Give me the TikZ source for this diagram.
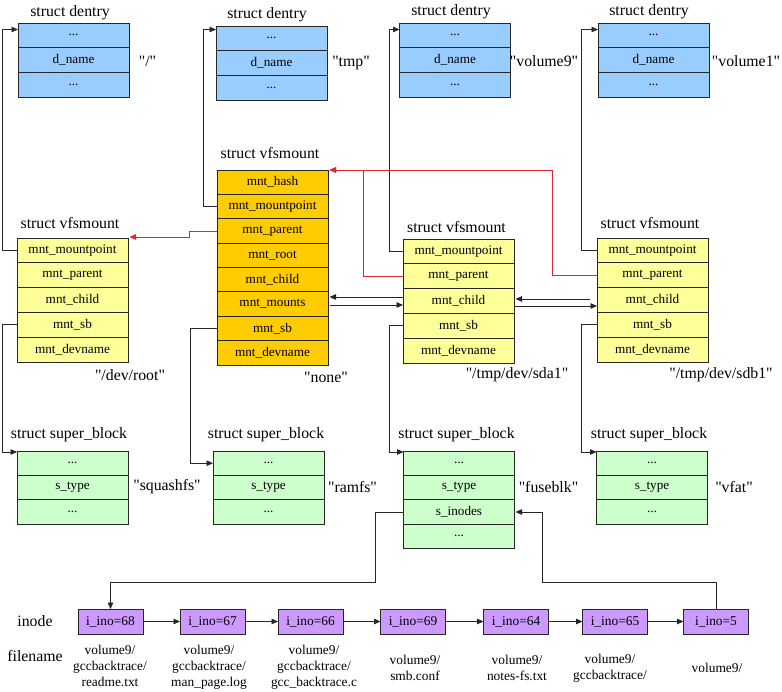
\documentclass[tikz,border=0pt]{standalone}
\usepackage{fontspec}
\newfontfamily\lib{Liberation Serif}
\usetikzlibrary{arrows.meta,calc}
\definecolor{dblue}{HTML}{99CCFF}
\definecolor{vyel}{HTML}{FFFF99}
\definecolor{vorg}{HTML}{FFCC00}
\definecolor{sgrn}{HTML}{CCFFCC}
\definecolor{ipur}{HTML}{CC99FF}
\definecolor{rline}{HTML}{E3262B}
\tikzset{
  fld/.style={draw=black!85, line width=0.9pt, minimum width=111pt, inner sep=0pt, outer sep=0pt, anchor=center, font=\lib\fontsize{13.2}{15}\selectfont},
  dent/.style={fld, fill=dblue, minimum height=24.67pt},
  vfs/.style={fld, fill=vyel, minimum height=24.8pt},
  vfso/.style={fld, fill=vorg, minimum height=24.375pt},
  sblk/.style={fld, fill=sgrn, minimum height=24.4pt},
  ino/.style={fld, fill=ipur, minimum width=65pt, minimum height=25pt, font=\lib\fontsize{13.4}{15}\selectfont},
  ttl/.style={inner sep=0pt, font=\lib\fontsize{15.8}{18}\selectfont},
  lbl/.style={inner sep=0pt, font=\lib\fontsize{15.8}{18}\selectfont},
  fname/.style={inner sep=0pt, align=center, font=\lib\fontsize{13.4}{16}\selectfont},
  arr/.style={draw=black!85, line width=0.8pt, -{Triangle[length=6.5pt,width=5.5pt]}},
  rarr/.style={draw=rline, line width=0.8pt, -{Triangle[length=6.5pt,width=5.5pt]}}
}
\begin{document}
\begin{tikzpicture}[x=1pt,y=-1pt]
\useasboundingbox[fill=white] (0,0) rectangle (782,692);
% ---- dentries
\node[ttl] (td1) at (70,13) {struct dentry};
\node[dent] (d1a) at (73.5,35.33) {...};
\node[dent] (d1b) at (73.5,60) {d\_name};
\node[dent] (d1c) at (73.5,84.67) {...};
\node[lbl] (l1) at (147.5,61) {"/"};

\node[ttl] (td2) at (267,15) {struct dentry};
\node[dent] (d2a) at (271.5,38.33) {...};
\node[dent] (d2b) at (271.5,63) {d\_name};
\node[dent] (d2c) at (271.5,87.67) {...};
\node[lbl] (l2) at (351,63) {"tmp"};

\node[ttl] (td3) at (451,12) {struct dentry};
\node[dent] (d3a) at (455,35.33) {...};
\node[dent] (d3b) at (455,60) {d\_name};
\node[dent] (d3c) at (455,84.67) {...};
\node[lbl] (l3) at (544,61) {"volume9"};

\node[ttl] (td4) at (649,12) {struct dentry};
\node[dent] (d4a) at (653.5,35.33) {...};
\node[dent] (d4b) at (653.5,60) {d\_name};
\node[dent] (d4c) at (653.5,84.67) {...};
\node[lbl] (l4) at (746,61) {"volume1"};
% ---- vfsmount 1
\node[ttl] (tv1) at (70,223) {struct vfsmount};
\node[vfs] (v1a) at (72.5,250.4) {mnt\_mountpoint};
\node[vfs] (v1b) at (72.5,275.2) {mnt\_parent};
\node[vfs] (v1c) at (72.5,300) {mnt\_child};
\node[vfs] (v1d) at (72.5,324.8) {mnt\_sb};
\node[vfs] (v1e) at (72.5,349.6) {mnt\_devname};
\node[lbl] (lv1) at (130,375) {"/dev/root"};
% ---- vfsmount 2
\node[ttl] (tv2) at (270,153) {struct vfsmount};
\node[vfso] (v2a) at (272.5,182.19) {mnt\_hash};
\node[vfso] (v2b) at (272.5,206.56) {mnt\_mountpoint};
\node[vfso] (v2c) at (272.5,230.94) {mnt\_parent};
\node[vfso] (v2d) at (272.5,255.31) {mnt\_root};
\node[vfso] (v2e) at (272.5,279.69) {mnt\_child};
\node[vfso] (v2f) at (272.5,304.06) {mnt\_mounts};
\node[vfso] (v2g) at (272.5,328.44) {mnt\_sb};
\node[vfso] (v2h) at (272.5,352.81) {mnt\_devname};
\node[lbl] (lv2) at (326,377) {"none"};
% ---- vfsmount 3
\node[ttl] (tv3) at (456.5,227) {struct vfsmount};
\node[vfs] (v3a) at (458.5,251.4) {mnt\_mountpoint};
\node[vfs] (v3b) at (458.5,276.2) {mnt\_parent};
\node[vfs] (v3c) at (458.5,301) {mnt\_child};
\node[vfs] (v3d) at (458.5,325.8) {mnt\_sb};
\node[vfs] (v3e) at (458.5,350.6) {mnt\_devname};
\node[lbl] (lv3) at (517,375) {"/tmp/dev/sda1"};
% ---- vfsmount 4
\node[ttl] (tv4) at (650,223) {struct vfsmount};
\node[vfs] (v4a) at (652.5,250.4) {mnt\_mountpoint};
\node[vfs] (v4b) at (652.5,275.2) {mnt\_parent};
\node[vfs] (v4c) at (652.5,300) {mnt\_child};
\node[vfs] (v4d) at (652.5,324.8) {mnt\_sb};
\node[vfs] (v4e) at (652.5,349.6) {mnt\_devname};
\node[lbl] (lv4) at (721,375) {"/tmp/dev/sdb1"};
% ---- super blocks
\node[ttl] (ts1) at (69,435) {struct super\_block};
\node[sblk] (s1a) at (72.5,463.2) {...};
\node[sblk] (s1b) at (72.5,487.6) {s\_type};
\node[sblk] (s1c) at (72.5,512) {...};
\node[lbl] (ls1) at (167,487) {"squashfs"};

\node[ttl] (ts2) at (266,435) {struct super\_block};
\node[sblk] (s2a) at (268.5,463.2) {...};
\node[sblk] (s2b) at (268.5,487.6) {s\_type};
\node[sblk] (s2c) at (268.5,512) {...};
\node[lbl] (ls2) at (352.5,487) {"ramfs"};

\node[ttl] (ts3) at (456.5,435) {struct super\_block};
\node[sblk] (s3a) at (459,463.2) {...};
\node[sblk] (s3b) at (459,487.6) {s\_type};
\node[sblk] (s3c) at (459,512) {s\_inodes};
\node[sblk] (s3d) at (459,536.4) {...};
\node[lbl] (ls3) at (548.5,487) {"fuseblk"};

\node[ttl] (ts4) at (649,435) {struct super\_block};
\node[sblk] (s4a) at (652,463.2) {...};
\node[sblk] (s4b) at (652,487.6) {s\_type};
\node[sblk] (s4c) at (652,512) {...};
\node[lbl] (ls4) at (734,487) {"vfat"};
% ---- inodes
\node[lbl] (linode) at (35,621) {inode};
\node[lbl] (lfname) at (35,656) {filename};
\node[ino] (i68) at (110.5,621.5) {i\_ino=68};
\node[ino] (i67) at (212.5,621.5) {i\_ino=67};
\node[ino] (i66) at (310.5,621.5) {i\_ino=66};
\node[ino] (i69) at (413,621.5) {i\_ino=69};
\node[ino] (i64) at (516,621.5) {i\_ino=64};
\node[ino] (i65) at (615,621.5) {i\_ino=65};
\node[ino] (i5) at (716,621.5) {i\_ino=5};
\node[fname] (f68) at (110,666) {volume9/\\gccbacktrace/\\readme.txt};
\node[fname] (f67) at (209,667) {volume9/\\gccbacktrace/\\man\_page.log};
\node[fname] (f66) at (314,667) {volume9/\\gccbacktrace/\\gcc\_backtrace.c};
\node[fname] (f69) at (415,668) {volume9/\\smb.conf};
\node[fname] (f64) at (517,668) {volume9/\\notes-fs.txt};
\node[fname] (f65) at (610,668) {volume9/\\gccbacktrace/};
\node[fname] (f5) at (717,668) {volume9/};
% ---- connectors: mountpoint -> dentry
\draw[arr] (v1a.west) -- ++(-15,0) |- ($(d1a.north west)+(0,6.5)$);
\draw[arr] (v2b.west) -- ++(-14,0) |- ($(d2a.north west)+(0,3.5)$);
\draw[arr] (v3a.west) -- ++(-14,0) |- ($(d3a.north west)+(0,6.5)$);
\draw[arr] (v4a.west) -- ++(-16,0) |- ($(d4a.north west)+(0,6.5)$);
% ---- parent links (red)
\draw[rarr] (v2c.west) -- ++(-28,0) |- ($(v1a.north east)+(1.5,-1)$);
\draw[rarr] (v3b.west) -- ++(-40,0) |- ($(v2a.north east)+(1.5,0)$);
\draw[rarr] (v4b.west) -- ++(-45,0) |- ($(v2a.north east)+(1.5,0)$);
% ---- child / mounts lists
\draw[arr] ($(v3c.west)+(1,-4)$) -- ($(v2f.east |- v3c.west)+(1.5,-4)$);
\draw[arr] ($(v2f.east |- v3c.west)+(1.5,4)$) -- ($(v3c.west)+(0,4)$);
\draw[arr] ($(v4c.west)+(-7,-1)$) -- ($(v3c.east |- v4c.west)+(1.5,-1)$);
\draw[arr] ($(v3c.east)+(0,5)$) -- ($(v4c.west |- v3c.east)+(0,5)$);
% ---- mnt_sb -> super_block
\draw[arr] (v1d.west) -- ++(-15,0) |- ($(s1a.north west)+(0,1)$);
\draw[arr] (v2g.west) -- ++(-27,0) |- (s2a.west);
\draw[arr] (v3d.west) -- ++(-14,0) |- ($(s3a.north west)+(0,1)$);
\draw[arr] (v4d.west) -- ++(-16,0) |- ($(s4a.north west)+(0,1)$);
% ---- s_inodes list
\draw[arr] (s3c.west) -- ++(-28.5,0) |- ($(i68.north)+(0,-27)$) -- (i68.north);
\draw[arr] (i5.north) -- ++(0,-27) -| ($(s3c.east)+(28,0)$) -- ($(s3c.east)+(1,0)$);
\draw[arr] (i68) -- (i67);
\draw[arr] (i67) -- (i66);
\draw[arr] (i66) -- (i69);
\draw[arr] (i69) -- (i64);
\draw[arr] (i64) -- (i65);
\draw[arr] (i65) -- (i5);
\end{tikzpicture}
\end{document}
